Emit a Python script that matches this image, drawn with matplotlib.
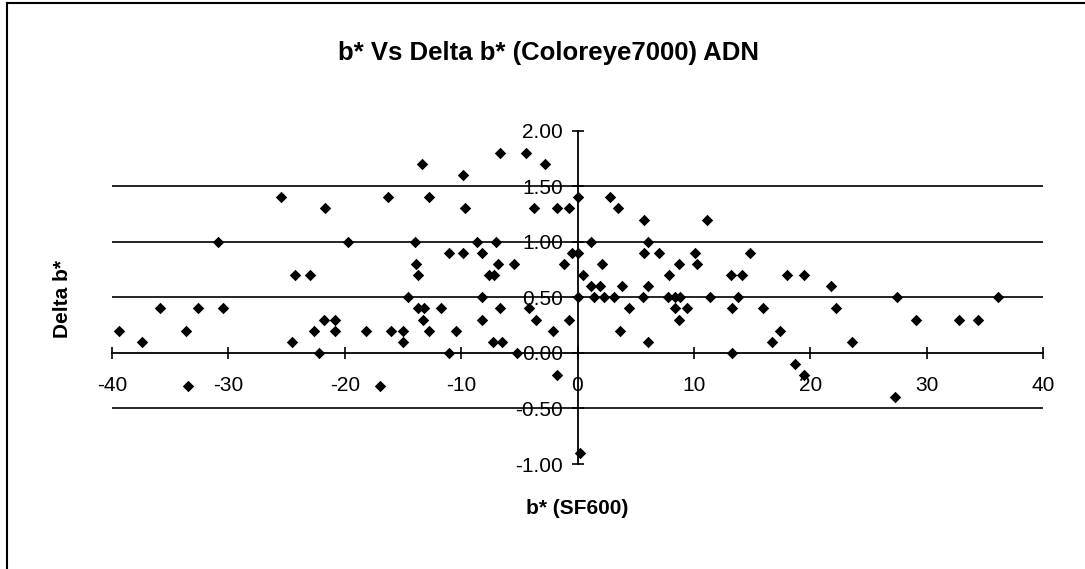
import matplotlib
matplotlib.use("Agg")
import matplotlib.pyplot as plt
from matplotlib.lines import Line2D

plt.rcParams['font.family'] = ['Liberation Sans', 'DejaVu Sans']

title = "b* Vs Delta b* (Coloreye7000) ADN"
x_label = "b* (SF600)"
y_label = "Delta b*"

b_sf600 = [
    -25.5, -21.7, -30.9, -19.7, -24.3, -23.0, -35.9, -32.6, -30.5, -21.8,
    -20.8, -39.4, -33.6, -22.6, -20.8, -37.4, -24.5, -22.2, -33.5,
    -6.65, -4.4, -13.35, -2.8, -9.8, -16.3, -12.8, 0.0, -9.65, -3.7,
    -1.8, -0.75, -14.0, -8.6, -7.0, -11.0, -9.8, -8.2, -0.5, -13.9,
    -6.8, -5.45, -1.2, -13.7, -7.6, -7.2, -14.55, -8.2, 0.0, -13.7,
    -13.2, -11.7, -6.65, -4.2, -13.3, -8.2, -3.6, -0.7, -18.15, -16.0,
    -15.0, -12.8, -10.45, -2.1, -15.0, -7.3, -6.45, -11.0, -5.2, -1.75,
    -16.95,
    2.8, 3.5, 5.7, 11.1, 1.2, 6.1, 0.0, 5.7, 7.0, 10.1,
    14.8, 2.1, 8.7, 10.3, 0.5, 7.85, 13.2, 14.1, 18.0, 19.5,
    1.2, 1.9, 3.8, 6.1, 1.4, 2.25, 3.1, 5.6, 7.8, 8.4,
    8.8, 11.35, 13.8, 4.4, 8.4, 9.4, 13.25, 15.9, 8.7, 3.65,
    17.4, 6.1, 16.7, 13.25, 18.7, 19.5,
    21.8, 22.25, 27.45, 36.1, 29.05, 32.8, 34.4, 23.6, 27.3, 0.2,
]
delta_b = [
    1.4, 1.3, 1.0, 1.0, 0.7, 0.7, 0.4, 0.4, 0.4, 0.3,
    0.3, 0.2, 0.2, 0.2, 0.2, 0.1, 0.1, 0.0, -0.3,
    1.8, 1.8, 1.7, 1.7, 1.6, 1.4, 1.4, 1.4, 1.3, 1.3,
    1.3, 1.3, 1.0, 1.0, 1.0, 0.9, 0.9, 0.9, 0.9, 0.8,
    0.8, 0.8, 0.8, 0.7, 0.7, 0.7, 0.5, 0.5, 0.5, 0.4,
    0.4, 0.4, 0.4, 0.4, 0.3, 0.3, 0.3, 0.3, 0.2, 0.2,
    0.2, 0.2, 0.2, 0.2, 0.1, 0.1, 0.1, 0.0, 0.0, -0.2,
    -0.3,
    1.4, 1.3, 1.2, 1.2, 1.0, 1.0, 0.9, 0.9, 0.9, 0.9,
    0.9, 0.8, 0.8, 0.8, 0.7, 0.7, 0.7, 0.7, 0.7, 0.7,
    0.6, 0.6, 0.6, 0.6, 0.5, 0.5, 0.5, 0.5, 0.5, 0.5,
    0.5, 0.5, 0.5, 0.4, 0.4, 0.4, 0.4, 0.4, 0.3, 0.2,
    0.2, 0.1, 0.1, 0.0, -0.1, -0.2,
    0.6, 0.4, 0.5, 0.5, 0.3, 0.3, 0.3, 0.1, -0.4, -0.9,
]

x_ticks = [-40, -30, -20, -10, 0, 10, 20, 30, 40]
y_ticks = [-1.0, -0.5, 0.0, 0.5, 1.0, 1.5, 2.0]
y_tick_labels = ["-1.00", "-0.50", "0.00", "0.50", "1.00", "1.50", "2.00"]
grid_levels = [-0.5, 0.5, 1.0, 1.5]

W, H = 1085, 569
fig = plt.figure(figsize=(W / 100, H / 100), dpi=100)
fig.patch.set_facecolor("white")

left, right = 112, 1043
top, bottom = 130.7, 464
ax = fig.add_axes([left / W, 1 - bottom / H, (right - left) / W, (bottom - top) / H])
ax.set_xlim(-40, 40)
ax.set_ylim(-1, 2)

for g in grid_levels:
    ax.axhline(g, color="black", lw=1.2, zorder=1)

ax.scatter(b_sf600, delta_b, marker="D", s=34, color="black", zorder=3, linewidths=0)

for s in ["top", "right"]:
    ax.spines[s].set_visible(False)
ax.spines["left"].set_position(("data", 0))
ax.spines["bottom"].set_position(("data", 0))
ax.spines["left"].set_linewidth(1.3)
ax.spines["bottom"].set_linewidth(1.3)
ax.spines["left"].set_zorder(2)
ax.spines["bottom"].set_zorder(2)

ax.set_xticks(x_ticks)
ax.set_xticklabels([str(t) for t in x_ticks])
ax.set_yticks(y_ticks)
ax.set_yticklabels(y_tick_labels)
ax.tick_params(axis="both", direction="inout", length=9, width=1.2, labelsize=15, colors="black")
ax.tick_params(axis="x", pad=12)
ax.tick_params(axis="y", pad=6)

fig.text(548 / W, 1 - 53 / H, title, ha="center", va="center", fontsize=18.5, fontweight="bold")
fig.text(577 / W, 1 - 508 / H, x_label, ha="center", va="center", fontsize=15, fontweight="bold")
fig.text(62 / W, 1 - 299 / H, y_label, ha="center", va="center", fontsize=15, fontweight="bold", rotation=90)

# outer chart border (left and top visible)
fig.add_artist(Line2D([7 / W, 7 / W], [0, 1 - 3 / H], transform=fig.transFigure, color="black", lw=1.5))
fig.add_artist(Line2D([7 / W, 1], [1 - 3 / H, 1 - 3 / H], transform=fig.transFigure, color="black", lw=1.5))

fig.savefig("out.png", dpi=100, facecolor="white")
